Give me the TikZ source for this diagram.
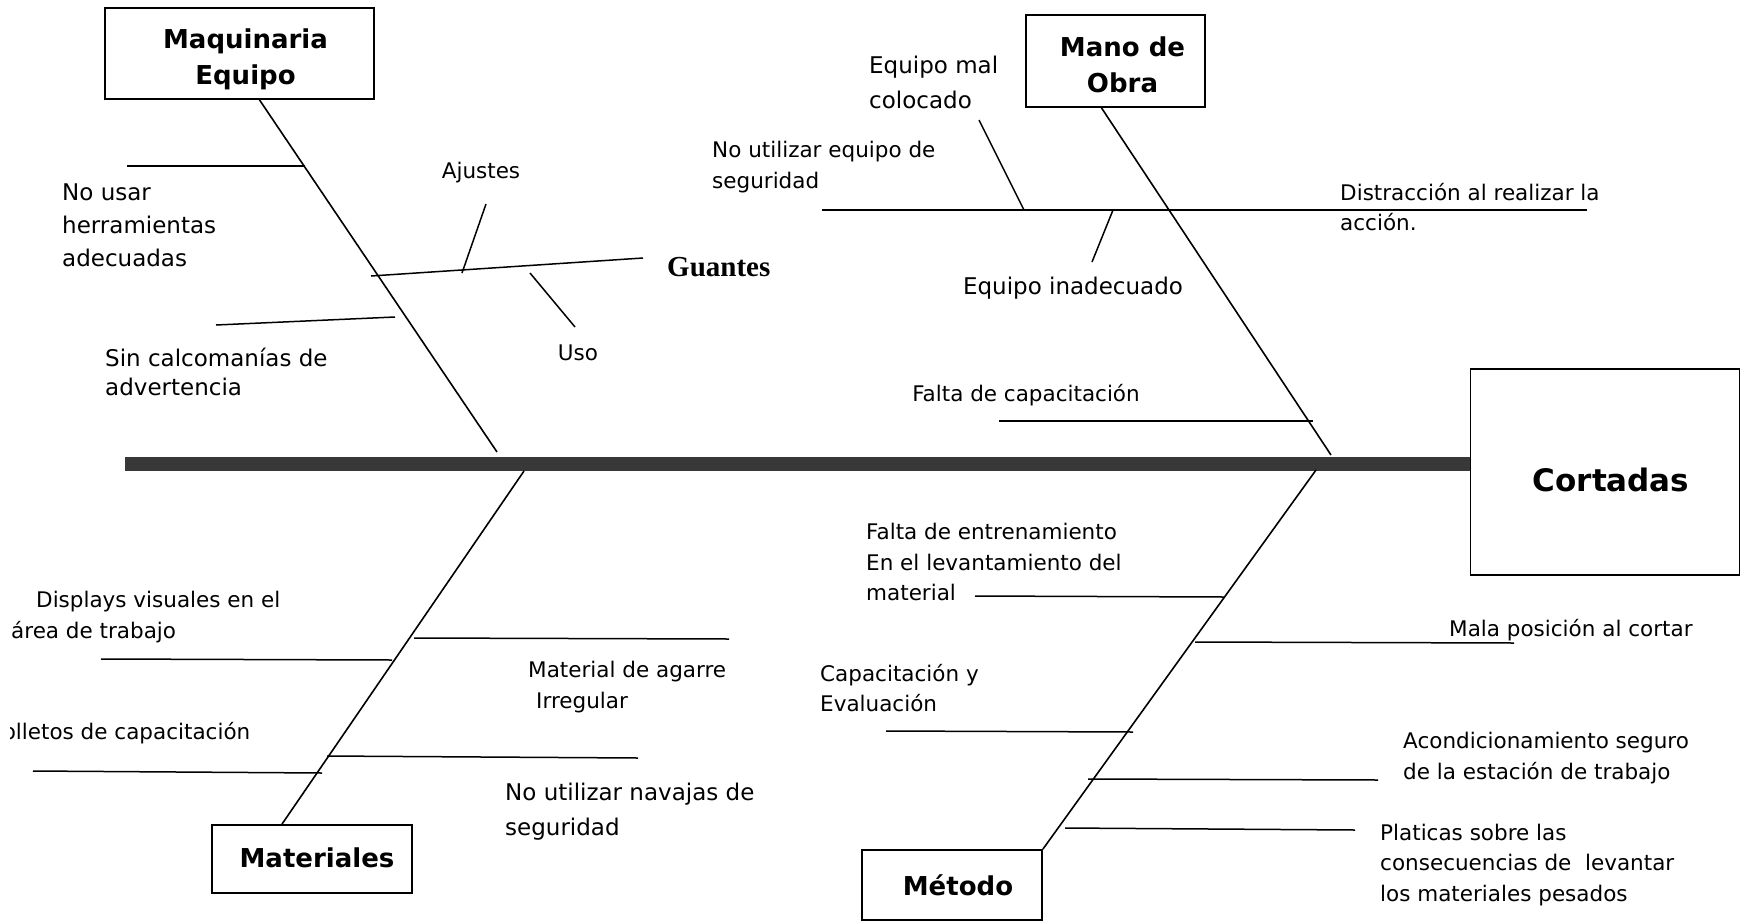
\documentclass[tikz,border=0pt]{standalone}
\usepackage{fontspec}
\setmainfont{DejaVu Sans}
\newfontfamily\verdfont{DejaVu Sans}
\newfontfamily\serfont{Liberation Serif}

\tikzset{
  catbox/.style={draw, line width=1.8pt, inner sep=0pt},
  ttl/.style={align=center, inner sep=0pt, font=\verdfont\bfseries\fontsize{26}{36}\selectfont},
  lbl/.style={font=\fontsize{21.5}{30.5}\selectfont, align=left, inner sep=0pt, anchor=west},
  vlbl/.style={font=\verdfont\fontsize{23}{33}\selectfont, align=left, inner sep=0pt, anchor=west},
  spine/.style={line width=14pt, black!78},
  bone/.style={line width=1.6pt},
  cause/.style={line width=1.5pt},
}

\begin{document}
\begin{tikzpicture}[x=1pt, y=-1pt]
  \useasboundingbox (0,0) rectangle (1742,921);

  % Category boxes
  \node[catbox, minimum width=269pt, minimum height=91pt] (maq) at (239.5,53.5) {};
  \node[ttl] (maqT) at ([xshift=6pt, yshift=-6pt]maq.center) {Maquinaria\\Equipo};
  \node[catbox, minimum width=179pt, minimum height=92pt] (mano) at (1115.5,61) {};
  \node[ttl] (manoT) at ([xshift=7pt, yshift=-4pt]mano.center) {Mano de\\Obra};
  \node[catbox, minimum width=200pt, minimum height=68pt] (mat) at (312,859) {};
  \node[ttl] (matT) at ([xshift=5pt, yshift=1pt]mat.center) {Materiales};
  \node[catbox, minimum width=180pt, minimum height=70pt] (met) at (952,885) {};
  \node[ttl] (metT) at ([xshift=6pt]met.center) {Método};
  \node[catbox, minimum width=269pt, minimum height=206pt] (cort) at (1605,472) {};
  \node[ttl, font=\verdfont\bfseries\fontsize{31}{36}\selectfont] (cortT) at ([xshift=6pt, yshift=-8pt]cort.center) {Cortadas};

  % Spine
  \coordinate (spL) at (125,464);
  \draw[spine] (spL) -- (spL -| cort.west);

  % Main bones
  \coordinate (maqE) at (497,452);
  \coordinate (manoE) at (1331,455);
  \coordinate (matE) at (524,471);
  \coordinate (metE) at (1316,470);
  \draw[bone] ([xshift=20pt]maq.south) -- (maqE);
  \draw[bone] ([xshift=-14pt]mano.south) -- (manoE);
  \draw[bone] ([xshift=-30pt]mat.north) -- (matE);
  \draw[bone] (met.north east) -- (metE);

  % Maquinaria / Equipo
  \draw[cause] (127,166) -- (305,166);
  \node[vlbl] (usar) at (62,225) {No usar\\herramientas\\adecuadas};
  \draw[cause] (216,325) -- (395,317);
  \node[vlbl, font=\verdfont\fontsize{23}{29}\selectfont] (calco) at (105,372) {Sin calcomanías de\\advertencia};
  \draw[cause] (371,276) -- (643,258);
  \node[anchor=west, inner sep=0pt, font=\serfont\bfseries\fontsize{29}{34}\selectfont] (guan) at (667,267) {Guantes};
  \draw[cause] (486,204) -- (462,273);
  \node[lbl, anchor=center] (ajus) at (481,173) {Ajustes};
  \draw[cause] (530,273) -- (575,327);
  \node[lbl, anchor=center] (uso) at (578,353) {Uso};

  % Mano de Obra
  \draw[cause] (822,210) -- (1587,210);
  \node[vlbl, font=\verdfont\fontsize{23}{35}\selectfont] (mal) at (869,82) {Equipo mal\\colocado};
  \draw[cause] (979,120) -- (1024,210);
  \node[lbl] (nouti) at (712,167) {No utilizar equipo de\\seguridad};
  \node[lbl] (distr) at (1340,207) {Distracción al realizar la\\acción.};
  \draw[cause] (1113,210) -- (1092,262);
  \node[vlbl, anchor=center] (inad) at (1073,288) {Equipo inadecuado};
  \draw[cause] (999,421) -- (1313,421);
  \node[lbl, anchor=center] (fcap) at (1026,395) {Falta de capacitación};

  % Materiales
  \draw[cause] (101,659) -- (392,660);
  \node[lbl] (disp) at (11,617) {\hspace*{25pt}Displays visuales en el\\área de trabajo};
  \draw[cause] (414,638) -- (729,639);
  \node[lbl] (agar) at (528,687) {Material de agarre\\\hspace*{8pt}Irregular};
  \begin{scope}
    \clip (10,700) rectangle (400,760);
    \node[lbl] (foll) at (-9,733) {Folletos de capacitación};
  \end{scope}
  \draw[cause] (33,771) -- (322,773);
  \draw[cause] (327,756) -- (638,758);
  \node[vlbl, font=\verdfont\fontsize{23}{35}\selectfont] (nava) at (505,812) {No utilizar navajas de\\seguridad};

  % Metodo
  \node[lbl] (entr) at (866,562) {Falta de entrenamiento\\En el levantamiento del\\material};
  \draw[cause] (975,596) -- (1224,597);
  \draw[cause] (1195,642) -- (1514,643);
  \node[lbl] (posi) at (1449,630) {Mala posición al cortar};
  \node[lbl] (eval) at (820,688) {Capacitación y\\Evaluación};
  \draw[cause] (886,731) -- (1133,732);
  \draw[cause] (1088,779) -- (1378,780);
  \node[lbl] (acon) at (1403,758) {Acondicionamiento seguro\\de la estación de trabajo};
  \draw[cause] (1065,828) -- (1355,830);
  \node[lbl] (plat) at (1380,865) {Platicas sobre las\\consecuencias de\ \ levantar\\los materiales pesados};
\end{tikzpicture}
\end{document}
